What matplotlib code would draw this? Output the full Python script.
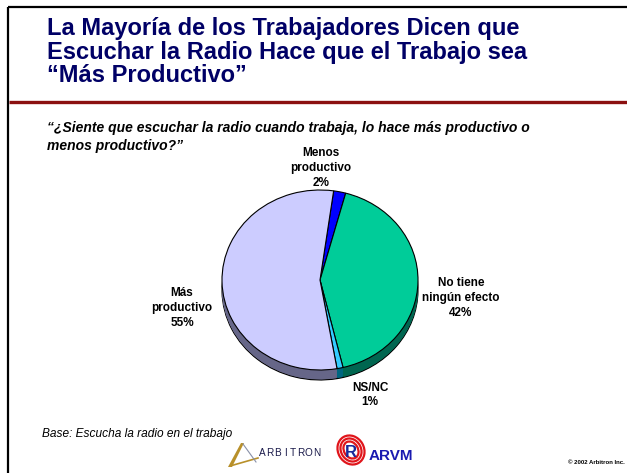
import numpy as np
import matplotlib.pyplot as plt
from matplotlib.patches import Polygon, Ellipse

plt.rcParams['font.family'] = ['Liberation Sans', 'DejaVu Sans']

# Data
labels = ["Menos\nproductivo\n2%", "No tiene\nningún efecto\n42%", "NS/NC\n1%", "Más\nproductivo\n55%"]
values = [2, 42, 1, 55]
top_colors = ["#0000FF", "#00CC99", "#33CCFF", "#CCCCFF"]
side_colors = ["#000080", "#006650", "#006680", "#666688"]

title = "La Mayoría de los Trabajadores Dicen que\nEscuchar la Radio Hace que el Trabajo sea\n“Más Productivo”"
question_lines = ["“¿Siente que escuchar la radio cuando trabaja, lo hace más productivo o",
                  "menos productivo?”"]
base_note = "Base: Escucha la radio en el trabajo"

W, H = 627, 473
fig = plt.figure(figsize=(W / 100, H / 100), dpi=100)
fig.patch.set_facecolor("white")

# overlay in pixel coords
bg = fig.add_axes([0, 0, 1, 1])
bg.set_xlim(0, W)
bg.set_ylim(H, 0)
bg.axis("off")

# frame lines
bg.plot([8, 8], [7, H], color="black", lw=1.6, solid_capstyle="butt")
bg.plot([8, W], [7, 7], color="black", lw=1.6, solid_capstyle="butt")
bg.plot([9, W], [102, 102], color="#8B1010", lw=2.4, solid_capstyle="butt")

bg.text(47, 52, title, fontsize=17, fontweight="bold", color="#000066",
        va="center", ha="left", linespacing=1.0)
for i, line in enumerate(question_lines):
    bg.text(47, 128 + i * 18, line, fontsize=10, fontweight="bold", style="italic",
            va="center", ha="left")
bg.text(42, 434, base_note, fontsize=8.6, style="italic", va="center", ha="left")
bg.text(625, 462, "© 2002 Arbitron Inc.", fontsize=4.3, fontweight="bold",
        va="center", ha="right")

# logos (simple)
bg.add_patch(Polygon([[241, 443], [244, 443], [232, 467], [228, 467]],
                     closed=True, facecolor="#B8902A", edgecolor="none"))
bg.plot([230, 258], [466, 458], color="#B8902A", lw=1.2)
bg.plot([243, 256], [444, 462], color="#8890A8", lw=0.8)
for i, ch in enumerate("ARBITRON"):
    bg.text(262 + i * 7.8, 453, ch, fontsize=7.2, color="#1A1A4A", va="center", ha="center")
for w, h in [(26, 30), (20, 24), (14, 18)]:
    bg.add_patch(Ellipse((351, 450), w, h, angle=-30, facecolor="none",
                         edgecolor="#E0151B", lw=1.6))
bg.text(351, 452, "R", fontsize=12, fontweight="bold", color="#1A2A9A", va="center", ha="center")
bg.text(369, 456, "ARVM", fontsize=11, fontweight="bold", color="#1A1AB0", va="center", ha="left")

# pie
cx, cy, a, b, depth_px = 320, 280, 98, 90, 10
depth = depth_px / b
ax = fig.add_axes([(cx - a) / W, (H - (cy + b + depth_px)) / H, 2 * a / W, (2 * b + depth_px) / H])
start = 82

ax.pie(values, colors=side_colors, startangle=start, counterclock=False,
       center=(0, -depth), wedgeprops=dict(edgecolor="black", linewidth=0.8))
for d in np.linspace(depth, 0, 15)[1:-1]:
    ax.pie(values, colors=side_colors, startangle=start, counterclock=False,
           center=(0, -d), wedgeprops=dict(edgecolor="none"))
ax.pie(values, colors=top_colors, startangle=start, counterclock=False,
       wedgeprops=dict(edgecolor="black", linewidth=0.8))
ax.set_aspect("auto")
ax.set_xlim(-1, 1)
ax.set_ylim(-1 - depth, 1)
ax.axis("off")

# labels
label_pos = [(321, 168), (461, 298), (370, 395), (182, 308)]
for lab, (x, y) in zip(labels, label_pos):
    bg.text(x, y, lab, fontsize=8.5, fontweight="bold", ha="center", va="center",
            linespacing=1.3)

fig.savefig("out.png", dpi=100)
